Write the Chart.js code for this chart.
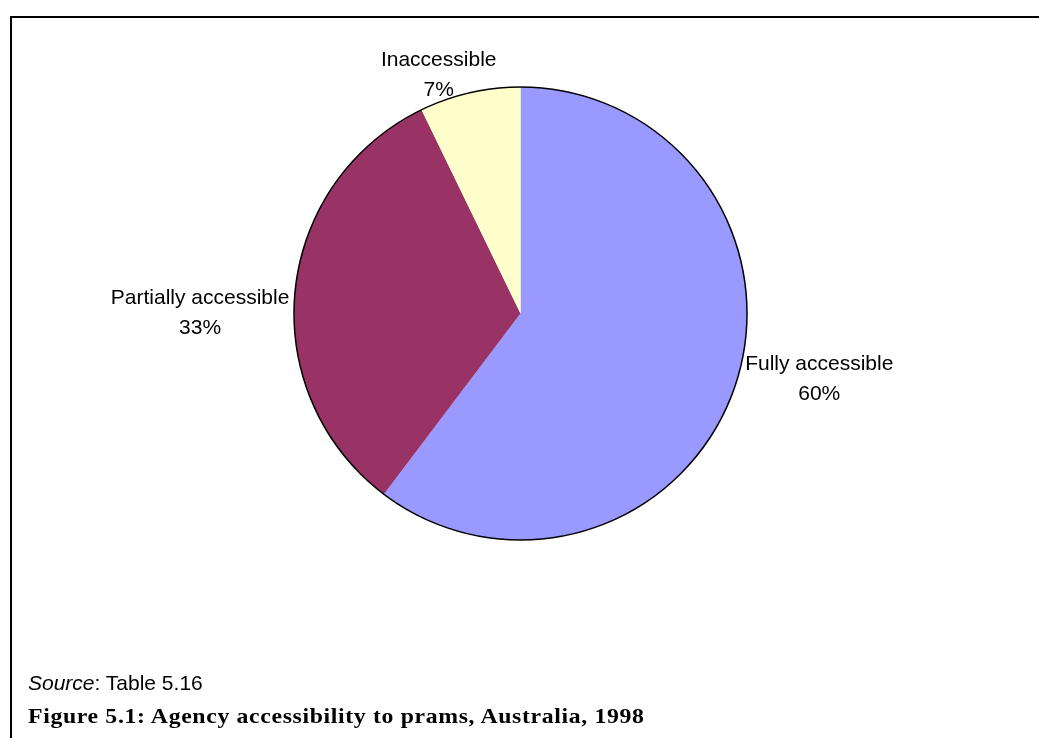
<!DOCTYPE html>
<html>
<head>
<meta charset="utf-8">
<script src="https://cdn.jsdelivr.net/npm/chart.js@4"></script>
<style>
  body { margin: 0; background: #fff; width: 1039px; height: 738px; overflow: hidden; position: relative; }
  #frame { position: absolute; left: 10px; top: 16px; width: 1100px; height: 800px;
           border-top: 2px solid #000; border-left: 2px solid #000; }
  #wrap { position: absolute; left: 0; top: 0; width: 1039px; height: 738px; }
  .src { position: absolute; left: 28px; top: 671px; font: 21px "Liberation Sans", Arial, sans-serif; color: #000; }
  .cap { position: absolute; left: 28px; top: 703px; font: bold 22px "Liberation Serif", "Times New Roman", serif;
         letter-spacing: 0.6px; color: #000; white-space: nowrap; transform: scaleX(1.08); transform-origin: 0 0; }
</style>
</head>
<body>
<div id="frame"></div>
<div id="wrap"><canvas id="pieChart"></canvas></div>
<div class="src"><i>Source</i>: Table 5.16</div>
<div class="cap">Figure 5.1: Agency accessibility to prams, Australia, 1998</div>
<script>
const categories = ['Fully accessible', 'Partially accessible', 'Inaccessible']
const shares = [60.3, 32.5, 7.2]
const sliceColors = ['#9999FF', '#993366', '#FFFFCC']

// where each label sits relative to the edge point at the middle of its slice
const labelNudge = [[84, -6], [-95, 22], [-31, -18]]

const outsideLabels = {
    id: 'outsideLabels',
    afterDatasetsDraw(chart) {
        const ctx = chart.ctx
        const meta = chart.getDatasetMeta(0)
        const total = shares.reduce((a, b) => a + b, 0)
        ctx.save()
        // outline only round the outside, no lines between slices
        const first = meta.data[0]
        ctx.beginPath()
        ctx.arc(first.x, first.y, first.outerRadius, 0, Math.PI * 2)
        ctx.lineWidth = 1.5
        ctx.strokeStyle = '#000'
        ctx.stroke()

        ctx.font = '21px "Liberation Sans", Arial, sans-serif'
        ctx.fillStyle = '#000'
        ctx.textAlign = 'center'
        ctx.textBaseline = 'middle'
        meta.data.forEach((arc, i) => {
            const mid = (arc.startAngle + arc.endAngle) / 2
            const x = arc.x + Math.cos(mid) * arc.outerRadius + labelNudge[i][0]
            const y = arc.y + Math.sin(mid) * arc.outerRadius + labelNudge[i][1]
            const pct = Math.round(shares[i] / total * 100) + '%'
            ctx.fillText(categories[i], x, y - 15)
            ctx.fillText(pct, x, y + 15)
        })
        ctx.restore()
    }
}

new Chart(document.getElementById('pieChart'), {
    type: 'pie',
    data: {
        labels: categories,
        datasets: [{
            data: shares,
            backgroundColor: sliceColors,
            borderWidth: 0
        }]
    },
    options: {
        responsive: true,
        maintainAspectRatio: false,
        animation: false,
        layout: { padding: { top: 87, bottom: 198, left: 294, right: 292 } },
        plugins: {
            legend: { display: false },
            tooltip: { enabled: false }
        }
    },
    plugins: [outsideLabels]
})
</script>
</body>
</html>
